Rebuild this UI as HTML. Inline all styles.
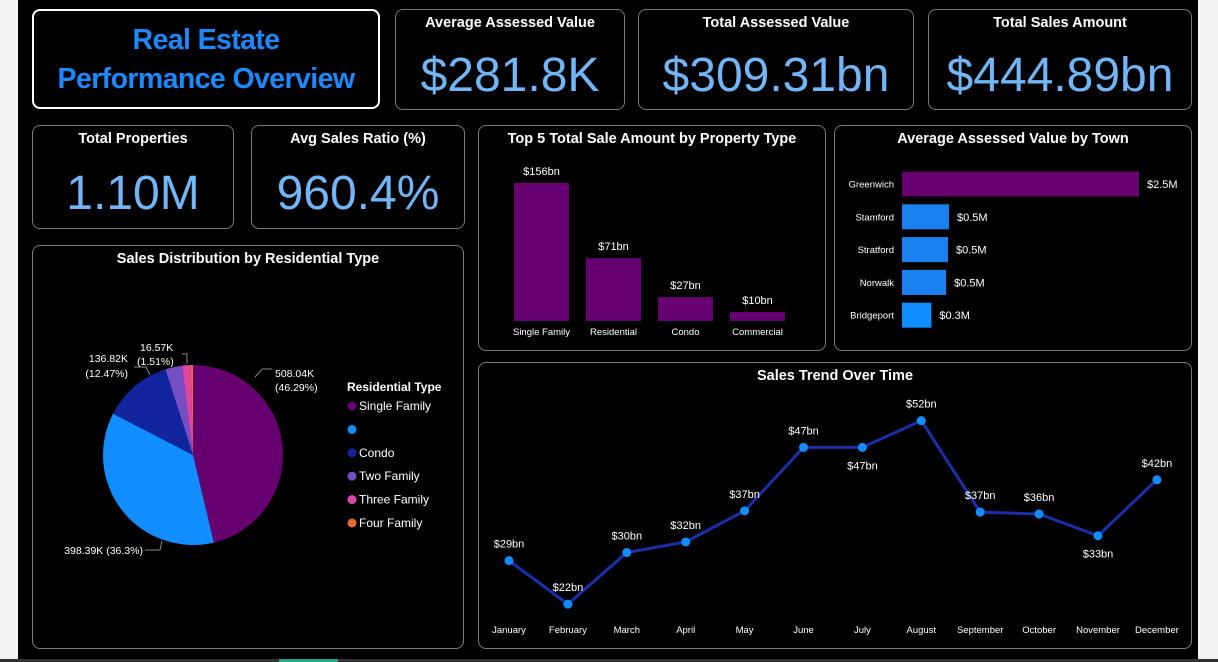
<!DOCTYPE html>
<html><head><meta charset="utf-8"><style>
html,body{margin:0;padding:0;}
body{width:1218px;height:662px;background:#f3f3f3;position:relative;overflow:hidden;font-family:"Liberation Sans",sans-serif;}
#bg{position:absolute;left:18px;top:0;width:1180px;height:660px;background:#000;}
#bar{position:absolute;left:0;top:659px;width:1218px;height:3px;background:#333;}
#bar div{position:absolute;left:279px;width:59px;top:0;height:3px;background:#27a58a;}
.card{position:absolute;border:1px solid #7a7a7a;border-radius:8px;box-sizing:border-box;color:#fff;}
.ct{position:absolute;left:0;right:0;top:5px;text-align:center;font-weight:bold;font-size:14.5px;color:#fff;}
.kv{position:absolute;left:0;right:0;text-align:center;color:#72b6f7;font-size:48px;}
svg{position:absolute;left:0;top:0;}
</style></head><body>
<div id="bg"></div>
<div id="bar"><div></div></div>

<div class="card" style="left:32px;top:9px;width:348px;height:100px;border:2px solid #fff;">
<div style="position:absolute;left:0;right:0;top:10px;text-align:center;color:#1e88ff;font-weight:bold;font-size:28.5px;letter-spacing:-0.6px;line-height:39px;">Real Estate<br>Performance Overview</div></div>

<div class="card" style="left:395px;top:9px;width:230px;height:101px;"><div class="ct">Average Assessed Value</div><div class="kv" style="top:38px;">$281.8K</div></div>
<div class="card" style="left:638px;top:9px;width:276px;height:101px;"><div class="ct">Total Assessed Value</div><div class="kv" style="top:38px;">$309.31bn</div></div>
<div class="card" style="left:928px;top:9px;width:264px;height:101px;"><div class="ct">Total Sales Amount</div><div class="kv" style="top:38px;">$444.89bn</div></div>
<div class="card" style="left:32px;top:125px;width:202px;height:104px;"><div class="ct">Total Properties</div><div class="kv" style="top:40px;">1.10M</div></div>
<div class="card" style="left:251px;top:125px;width:214px;height:104px;"><div class="ct">Avg Sales Ratio (%)</div><div class="kv" style="top:40px;">960.4%</div></div>

<div class="card" style="left:478px;top:125px;width:348px;height:226px;"><div class="ct">Top 5 Total Sale Amount by Property Type</div></div>
<div class="card" style="left:834px;top:125px;width:358px;height:226px;"><div class="ct">Average Assessed Value by Town</div></div>
<div class="card" style="left:32px;top:245px;width:432px;height:404px;"><div class="ct">Sales Distribution by Residential Type</div></div>
<div class="card" style="left:478px;top:362px;width:714px;height:287px;"><div class="ct">Sales Trend Over Time</div></div>

<svg id="chart" width="1218" height="662" xmlns="http://www.w3.org/2000/svg" font-family="Liberation Sans, sans-serif"></svg>

<script>
// Property type bars
const ptCategories = ["Single Family","Residential","Condo","Commercial"];
const ptValues = [156,71,27,10];
const ptLabels = ["$156bn","$71bn","$27bn","$10bn"];
// Town bars
const townCategories = ["Greenwich","Stamford","Stratford","Norwalk","Bridgeport"];
const townValues = [2.5,0.496,0.485,0.465,0.31];
const townLabels = ["$2.5M","$0.5M","$0.5M","$0.5M","$0.3M"];
// Pie
const pieCategories = ["Single Family","","Condo","Two Family","Three Family","Four Family"];
const pieValues = [508.04,398.39,136.82,33.0,16.57,4.7];
// Trend
const months = ["January","February","March","April","May","June","July","August","September","October","November","December"];
const trendValues = [29,22,30.3,32,37,47.2,47.2,51.5,36.8,36.5,33,42];
const trendLabels = ["$29bn","$22bn","$30bn","$32bn","$37bn","$47bn","$47bn","$52bn","$37bn","$36bn","$33bn","$42bn"];

const svg=document.getElementById('chart');
const NS="http://www.w3.org/2000/svg";
function mk(tag,attrs,txt){const e=document.createElementNS(NS,tag);for(const k in attrs)e.setAttribute(k,attrs[k]);if(txt!==undefined)e.textContent=txt;svg.appendChild(e);return e;}

// property type
const ptY=v=>321-v*0.885, ptX=i=>514+i*72;
ptValues.forEach((v,i)=>{
 const r=mk('rect',{x:ptX(i),y:ptY(v),width:55,height:321-ptY(v),fill:'#660070'});
 
 
 const l=mk('text',{x:ptX(i)+27.5,y:ptY(v)-8,fill:'#fff','font-size':11,'text-anchor':'middle'},ptLabels[i]);
 
 
 const c=mk('text',{x:ptX(i)+27.5,y:335,fill:'#fff','font-size':9.5,'text-anchor':'middle'},ptCategories[i]);
 
 
});

// town
const tX=v=>v*94.8, tY=i=>184+i*32.8;
townValues.forEach((v,i)=>{
 const col=i==0?'#660070':(i==4?'#118dff':'#1a80f0');
 const r=mk('rect',{x:902,y:tY(i)-12.5,width:tX(v),height:25,fill:col});
 
 
 const l=mk('text',{x:902+tX(v)+8,y:tY(i)+4,fill:'#fff','font-size':11},townLabels[i]);
 
 
 const c=mk('text',{x:894,y:tY(i)+3.5,fill:'#fff','font-size':9.5,'text-anchor':'end'},townCategories[i]);
 
 
});

// pie
const pieColors=['#660070','#118dff','#12239e','#744ec2','#e044a7','#e66c37'];
const total=pieValues.reduce((a,b)=>a+b,0);
const cx=193,cy=455,R=90;
let ang=0;
pieValues.forEach((v,i)=>{
 const a0=ang, a1=ang+v/total*2*Math.PI; ang=a1;
 const p=(a)=>[cx+R*Math.sin(a),cy-R*Math.cos(a)];
 const [x0,y0]=p(a0),[x1,y1]=p(a1);
 const s=mk('path',{d:`M${cx},${cy}L${x0},${y0}A${R},${R} 0 ${a1-a0>Math.PI?1:0} 1 ${x1},${y1}Z`,fill:pieColors[i]});
 
 
});
// pie labls
[[ [255,377],[262,378-9],[272,369] ],[ [162,541],[160,550],[145,550] ],[ [150,375],[146,367],[134,367] ],[ [187,364],[187,354],[182,354] ]].forEach(pts=>{
 const l=mk('polyline',{points:pts.map(p=>p.join(',')).join(' '),fill:'none',stroke:'#888','stroke-width':1});
 
 
});
[[275,377,'508.04K','start'],[275,391,'(46.29%)','start'],[143,554,'398.39K (36.3%)','end'],[128,362,'136.82K','end'],[128,377,'(12.47%)','end'],[140,351,'16.57K','start'],[137,365,'(1.51%)','start']].forEach(t=>{
 const e=mk('text',{x:t[0],y:t[1],fill:'#fff','font-size':10.5,'text-anchor':t[3]},t[2]);
 
 
});
const lt=mk('text',{x:347,y:391,fill:'#fff','font-size':12,'font-weight':'bold'},'Residential Type');


pieCategories.forEach((c,i)=>{
 const y=406+i*23.4;
 const d=mk('circle',{cx:352,cy:y,r:4.5,fill:pieColors[i]});
 
 
 const t=mk('text',{x:359,y:y+4,fill:'#fff','font-size':12},c);
 
 
});

// trend
const trX=i=>509+i*58.9, trY=v=>741-v*6.22;
const below=[6,10];
const line=mk('polyline',{points:trendValues.map((v,i)=>trX(i)+','+trY(v)).join(' '),fill:'none',stroke:'#1a2fa8','stroke-width':3,'stroke-linejoin':'round'});


trendValues.forEach((v,i)=>{
 const d=mk('circle',{cx:trX(i),cy:trY(v),r:4.5,fill:'#118dff'});
 
 
 const ly=below.includes(i)?trY(v)+22:trY(v)-13;
 const l=mk('text',{x:trX(i),y:ly,fill:'#fff','font-size':11,'text-anchor':'middle'},trendLabels[i]);
 
 
 const m=mk('text',{x:trX(i),y:633,fill:'#fff','font-size':9.5,'text-anchor':'middle'},months[i]);
 
 
});
</script>
</body></html>
